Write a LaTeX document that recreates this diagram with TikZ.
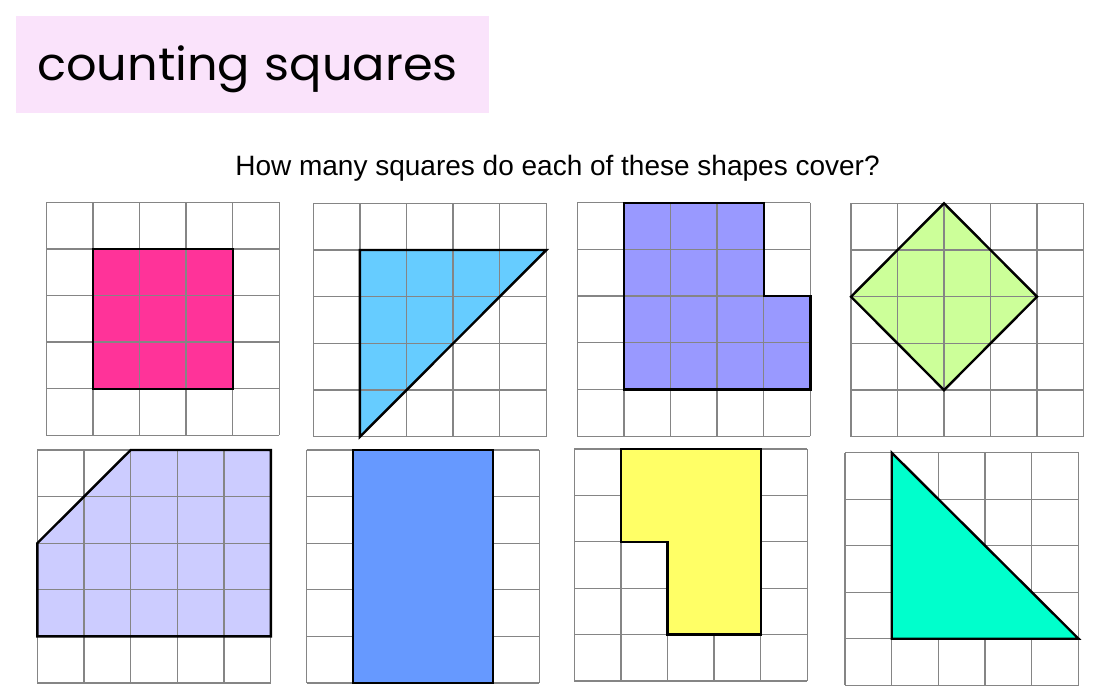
\documentclass[tikz,border=0pt]{standalone}
\usepackage{fontspec}
\setmainfont{Liberation Sans}
\newfontfamily\titlefont{Poppins}
\definecolor{titlebg}{HTML}{FAE3FB}
\definecolor{gridgray}{HTML}{858585}
\definecolor{cpink}{HTML}{FF3399}
\definecolor{cltblue}{HTML}{66CCFF}
\definecolor{cpurple}{HTML}{9999FF}
\definecolor{cgreen}{HTML}{CCFF99}
\definecolor{clav}{HTML}{CCCCFF}
\definecolor{cblue}{HTML}{6699FF}
\definecolor{cyellow}{HTML}{FFFF66}
\definecolor{cteal}{HTML}{00FFCC}
\tikzset{
  gridline/.style={draw=gridgray, line width=1.3pt},
  outline/.style={draw=black, line width=2.4pt, line join=miter},
}
\newcommand{\fivegrid}{\foreach \k in {0,...,5} {\draw[gridline] (\k,0) -- (\k,5); \draw[gridline] (0,\k) -- (5,\k);}}
\begin{document}
\begin{tikzpicture}[x=1pt,y=-1pt]
\useasboundingbox (0,0) rectangle (1111,699);
\fill[white] (0,0) rectangle (1111,699);
% title
\fill[titlebg] (16,16) rectangle (489,113);
\node[anchor=base west, inner sep=0pt] (title) at (37,80)
  {\scalebox{0.92}[0.88]{\titlefont\fontsize{52}{60}\selectfont counting\hspace{16pt}squares}};
\node[anchor=base, inner sep=0pt] (question) at (557.5,175)
  {\fontsize{28}{32}\selectfont How many squares do each of these shapes cover?};
% grid 1
\begin{scope}[shift={(46.3pt,-202.3pt)}, x=46.6pt, y=-46.6pt]
  \fill[cpink] (1,1) rectangle (4,4);
  \fivegrid
  \draw[outline] (1,1) rectangle (4,4);
\end{scope}
% grid 2
\begin{scope}[shift={(313.3pt,-203.3pt)}, x=46.6pt, y=-46.7pt]
  \fill[cltblue] (1,1) -- (5,1) -- (1,5) -- cycle;
  \fivegrid
  \draw[outline] (1,1) -- (5,1) -- (1,5) -- cycle;
\end{scope}
% grid 3
\begin{scope}[shift={(577.3pt,-202.7pt)}, x=46.6pt, y=-46.7pt]
  \fill[cpurple] (1,0) -- (4,0) -- (4,2) -- (5,2) -- (5,4) -- (1,4) -- cycle;
  \fivegrid
  \draw[outline] (1,0) -- (4,0) -- (4,2) -- (5,2) -- (5,4) -- (1,4) -- cycle;
\end{scope}
% grid 4
\begin{scope}[shift={(851pt,-203.3pt)}, x=46.5pt, y=-46.7pt]
  \fill[cgreen] (2,0) -- (4,2) -- (2,4) -- (0,2) -- cycle;
  \fivegrid
  \draw[outline] (2,0) -- (4,2) -- (2,4) -- (0,2) -- cycle;
\end{scope}
% grid 5
\begin{scope}[shift={(37.3pt,-450pt)}, x=46.7pt, y=-46.6pt]
  \fill[clav] (2,0) -- (5,0) -- (5,4) -- (0,4) -- (0,2) -- cycle;
  \fivegrid
  \draw[outline] (2,0) -- (5,0) -- (5,4) -- (0,4) -- (0,2) -- cycle;
\end{scope}
% grid 6
\begin{scope}[shift={(306.7pt,-450pt)}, x=46.5pt, y=-46.6pt]
  \fivegrid
  \draw[outline, fill=cblue] (1,0) rectangle (4,5);
\end{scope}
% grid 7
\begin{scope}[shift={(574.3pt,-449pt)}, x=46.6pt, y=-46.4pt]
  \fivegrid
  \draw[outline, fill=cyellow] (1,0) -- (4,0) -- (4,4) -- (2,4) -- (2,2) -- (1,2) -- cycle;
\end{scope}
% grid 8
\begin{scope}[shift={(845pt,-452.7pt)}, x=46.7pt, y=-46.5pt]
  \fivegrid
  \draw[outline, fill=cteal] (1,0) -- (1,4) -- (5,4) -- cycle;
\end{scope}
\end{tikzpicture}
\end{document}
